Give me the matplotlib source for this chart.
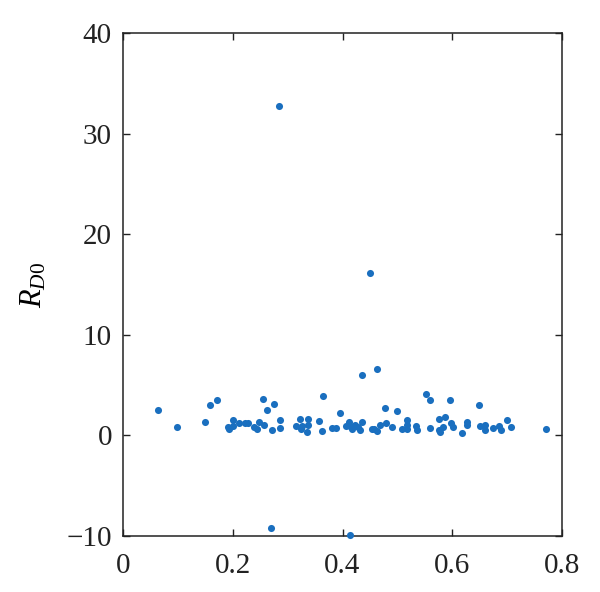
import matplotlib
matplotlib.use("Agg")
import matplotlib.pyplot as plt
from matplotlib import font_manager

# values
x_vals = [0.063, 0.098, 0.149, 0.159, 0.172, 0.192, 0.194, 0.200, 0.201, 0.212,
          0.222, 0.227, 0.238, 0.245, 0.248, 0.256, 0.257, 0.262, 0.272, 0.275,
          0.286, 0.287, 0.285, 0.270, 0.315, 0.323, 0.324, 0.327, 0.336, 0.338,
          0.338, 0.358, 0.362, 0.365, 0.380, 0.388, 0.396, 0.406, 0.411, 0.413,
          0.418, 0.423, 0.428, 0.432, 0.435, 0.436, 0.414, 0.451, 0.453, 0.457,
          0.462, 0.463, 0.468, 0.478, 0.479, 0.490, 0.500, 0.508, 0.517, 0.518,
          0.518, 0.534, 0.535, 0.553, 0.560, 0.559, 0.575, 0.575, 0.578, 0.584,
          0.587, 0.596, 0.598, 0.602, 0.617, 0.627, 0.627, 0.649, 0.651, 0.659,
          0.660, 0.674, 0.686, 0.688, 0.700, 0.707, 0.770]
y_vals = [2.48, 0.86, 1.33, 3.00, 3.47, 0.83, 0.60, 0.92, 1.55, 1.19,
          1.26, 1.22, 0.86, 0.60, 1.32, 3.57, 1.06, 2.55, 0.57, 3.08,
          1.52, 0.72, 32.75, -9.23, 0.93, 1.65, 0.66, 0.90, 0.33, 1.59,
          0.99, 1.46, 0.46, 3.90, 0.76, 0.76, 2.18, 0.93, 1.36, 0.93,
          0.60, 0.99, 0.79, 0.53, 1.32, 5.96, -9.93, 16.1, 0.60, 0.60,
          6.55, 0.46, 0.99, 2.75, 1.26, 0.83, 2.45, 0.60, 1.49, 1.06,
          0.60, 0.93, 0.57, 4.07, 3.50, 0.73, 1.59, 0.53, 0.33, 0.79,
          1.82, 3.50, 1.26, 0.79, 0.26, 1.32, 1.06, 2.98, 0.93, 1.06,
          0.50, 0.70, 0.93, 0.53, 1.49, 0.79, 0.66]

x_ticks = [0, 0.2, 0.4, 0.6, 0.8]
x_labels = ['0', '0.2', '0.4', '0.6', '0.8']
y_ticks = [-10, 0, 10, 20, 30, 40]
y_labels = ['\u221210', '0', '10', '20', '30', '40']

# pick a Times-like serif if one is installed
names = {f.name for f in font_manager.fontManager.ttflist}
serif = 'DejaVu Serif'
for cand in ['Liberation Serif', 'Times New Roman', 'Nimbus Roman', 'FreeSerif']:
    if cand in names:
        serif = cand
        break

plt.rcParams['font.family'] = [serif, 'DejaVu Serif']
plt.rcParams['mathtext.fontset'] = 'custom'
plt.rcParams['mathtext.it'] = serif + ':italic'
plt.rcParams['mathtext.rm'] = serif

fig = plt.figure(figsize=(6, 5.92), dpi=100)
ax = fig.add_axes([0.205, 0.0946, 0.7317, 0.8497])

ax.scatter(x_vals, y_vals, s=26, color='#1a6fbf', linewidths=0, zorder=3,
           clip_on=False)

ax.set_xlim(0, 0.8)
ax.set_ylim(-10, 40)
ax.set_xticks(x_ticks)
ax.set_xticklabels(x_labels)
ax.set_yticks(y_ticks)
ax.set_yticklabels(y_labels)
ax.tick_params(direction='in', length=5, width=1, labelsize=21, pad=8,
               top=True, right=True, colors='#222222')
ax.tick_params(axis='x', pad=12)
for sp in ax.spines.values():
    sp.set_linewidth(1.1)
    sp.set_color('#222222')

ax.set_ylabel(r'$R_{D0}$', fontsize=22, labelpad=13)

fig.savefig('out.png', dpi=100)
